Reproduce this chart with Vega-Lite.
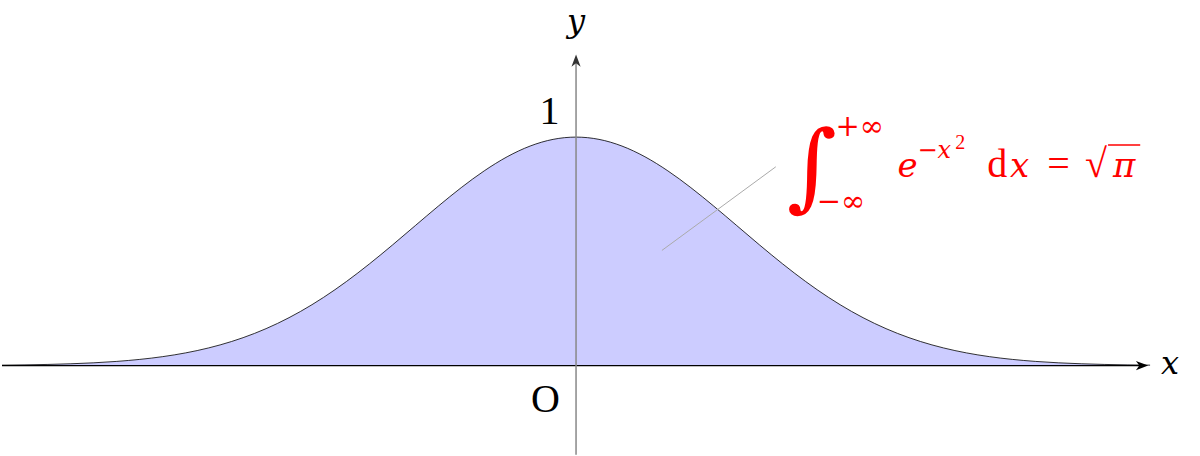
{
  "$schema": "https://vega.github.io/schema/vega-lite/v6.json",
  "width": 1200,
  "height": 456,
  "autosize": {"type": "fit", "contains": "padding"},
  "padding": 0,
  "background": "white",
  "config": {"view": {"stroke": null}},
  "datasets": {
    "curve": [
      {"x": -2.5, "y": 0.00193}, {"x": -2.4, "y": 0.00315}, {"x": -2.3, "y": 0.00504},
      {"x": -2.2, "y": 0.00791}, {"x": -2.1, "y": 0.01216}, {"x": -2.0, "y": 0.01832},
      {"x": -1.9, "y": 0.02705}, {"x": -1.8, "y": 0.03916}, {"x": -1.7, "y": 0.05558},
      {"x": -1.6, "y": 0.0773}, {"x": -1.5, "y": 0.1054}, {"x": -1.4, "y": 0.14086},
      {"x": -1.3, "y": 0.18452}, {"x": -1.2, "y": 0.23693}, {"x": -1.1, "y": 0.2982},
      {"x": -1.0, "y": 0.36788}, {"x": -0.9, "y": 0.44486}, {"x": -0.8, "y": 0.52729},
      {"x": -0.7, "y": 0.61263}, {"x": -0.6, "y": 0.69768}, {"x": -0.5, "y": 0.7788},
      {"x": -0.4, "y": 0.85214}, {"x": -0.3, "y": 0.91393}, {"x": -0.2, "y": 0.96079},
      {"x": -0.1, "y": 0.99005}, {"x": 0.0, "y": 1.0}, {"x": 0.1, "y": 0.99005},
      {"x": 0.2, "y": 0.96079}, {"x": 0.3, "y": 0.91393}, {"x": 0.4, "y": 0.85214},
      {"x": 0.5, "y": 0.7788}, {"x": 0.6, "y": 0.69768}, {"x": 0.7, "y": 0.61263},
      {"x": 0.8, "y": 0.52729}, {"x": 0.9, "y": 0.44486}, {"x": 1.0, "y": 0.36788},
      {"x": 1.1, "y": 0.2982}, {"x": 1.2, "y": 0.23693}, {"x": 1.3, "y": 0.18452},
      {"x": 1.4, "y": 0.14086}, {"x": 1.5, "y": 0.1054}, {"x": 1.6, "y": 0.0773},
      {"x": 1.7, "y": 0.05558}, {"x": 1.8, "y": 0.03916}, {"x": 1.9, "y": 0.02705},
      {"x": 2.0, "y": 0.01832}, {"x": 2.1, "y": 0.01216}, {"x": 2.2, "y": 0.00791},
      {"x": 2.3, "y": 0.00504}, {"x": 2.4, "y": 0.00315}, {"x": 2.5, "y": 0.00193}
    ]
  },
  "encoding": {
    "x": {"field": "x", "type": "quantitative", "axis": null,
          "scale": {"domain": [-2.5, 2.7174], "nice": false, "zero": false}},
    "y": {"field": "y", "type": "quantitative", "axis": null,
          "scale": {"domain": [-0.3826, 1.6], "nice": false, "zero": false}}
  },
  "layer": [
    {
      "data": {"name": "curve"},
      "mark": {"type": "area", "color": "#ccccff", "interpolate": "monotone"},
      "encoding": {
        "y": {"field": "y", "type": "quantitative", "stack": null},
        "y2": {"datum": 0}
      }
    },
    {
      "data": {"name": "curve"},
      "mark": {"type": "line", "color": "black", "strokeWidth": 0.8, "interpolate": "monotone"},
      "encoding": {}
    },
    {
      "data": {"values": [{"x": -2.5, "x2": 2.47, "y": 0}]},
      "mark": {"type": "rule", "color": "black", "strokeWidth": 1.3},
      "encoding": {"x2": {"field": "x2"}}
    },
    {
      "data": {"values": [{"x": 0, "y": -0.39, "y2": 1.34}]},
      "mark": {"type": "rule", "color": "#888888", "strokeWidth": 1.5},
      "encoding": {"y2": {"field": "y2"}}
    },
    {
      "data": {"values": [{"x": 2.465, "y": 0}]},
      "mark": {"type": "point", "filled": true, "color": "black", "opacity": 1, "size": 150,
               "shape": "M1,0 L-1,-0.75 L-0.45,0 L-1,0.75 Z"},
      "encoding": {}
    },
    {
      "data": {"values": [{"x": 0, "y": 1.335}]},
      "mark": {"type": "point", "filled": true, "color": "#333333", "opacity": 1, "size": 150,
               "shape": "M0,-1 L-0.75,1 L0,0.45 L0.75,1 Z"},
      "encoding": {}
    },
    {
      "data": {"values": [{"x": 0.374, "y": 0.504, "x2": 0.87, "y2": 0.87}]},
      "mark": {"type": "rule", "color": "#aaaaaa", "strokeWidth": 1},
      "encoding": {"x2": {"field": "x2"}, "y2": {"field": "y2"}}
    },
    {
      "data": {"values": [{"x": -0.072, "y": 1.0565, "label": "1"}, {"x": -0.07, "y": -0.204, "label": "O"}]},
      "mark": {"type": "text", "font": "Liberation Serif", "fontSize": 40, "align": "right", "baseline": "alphabetic", "color": "black"},
      "encoding": {"text": {"field": "label"}}
    },
    {
      "data": {"values": [{"x": 0, "y": 1.461, "label": "y"}, {"x": 2.587, "y": -0.039, "label": "x"}]},
      "mark": {"type": "text", "font": "DejaVu Serif", "fontStyle": "italic", "fontSize": 32, "align": "center", "baseline": "alphabetic", "color": "black"},
      "encoding": {"text": {"field": "label"}}
    },
    {
      "data": {"values": [{"x": 1.028, "y": 0.8566, "label": "∫"}]},
      "mark": {"type": "text", "font": "DejaVu Serif", "fontSize": 96, "align": "center", "baseline": "middle", "color": "red"},
      "encoding": {"text": {"field": "label"}}
    },
    {
      "data": {"values": [{"x": 1.13, "y": 1.0435, "label": "+∞"}, {"x": 1.048, "y": 0.717, "label": "−∞"}]},
      "mark": {"type": "text", "font": "DejaVu Serif", "fontSize": 29, "align": "left", "baseline": "middle", "color": "red"},
      "encoding": {"text": {"field": "label"}}
    },
    {
      "data": {"values": [{"x": 1.4, "y": 0.826, "label": "e"}, {"x": 1.89, "y": 0.826, "label": "x"}, {"x": 2.339, "y": 0.826, "label": "π"}]},
      "mark": {"type": "text", "font": "DejaVu Serif", "fontStyle": "italic", "fontSize": 34, "align": "left", "baseline": "alphabetic", "color": "red"},
      "encoding": {"text": {"field": "label"}}
    },
    {
      "data": {"values": [{"x": 1.791, "y": 0.826, "label": "d"}, {"x": 2.052, "y": 0.826, "label": "="}, {"x": 2.217, "y": 0.826, "label": "√"}]},
      "mark": {"type": "text", "font": "Liberation Serif", "fontSize": 40, "align": "left", "baseline": "alphabetic", "color": "red"},
      "encoding": {"text": {"field": "label"}}
    },
    {
      "data": {"values": [{"x": 1.487, "y": 0.9087, "label": "−x"}]},
      "mark": {"type": "text", "font": "DejaVu Serif", "fontStyle": "italic", "fontSize": 24, "align": "left", "baseline": "alphabetic", "color": "red"},
      "encoding": {"text": {"field": "label"}}
    },
    {
      "data": {"values": [{"x": 1.652, "y": 0.948, "label": "2"}]},
      "mark": {"type": "text", "font": "Liberation Serif", "fontSize": 20, "align": "left", "baseline": "alphabetic", "color": "red"},
      "encoding": {"text": {"field": "label"}}
    },
    {
      "data": {"values": [{"x": 2.317, "x2": 2.457, "y": 0.965}]},
      "mark": {"type": "rule", "color": "red", "strokeWidth": 1.5},
      "encoding": {"x2": {"field": "x2"}}
    }
  ]
}
